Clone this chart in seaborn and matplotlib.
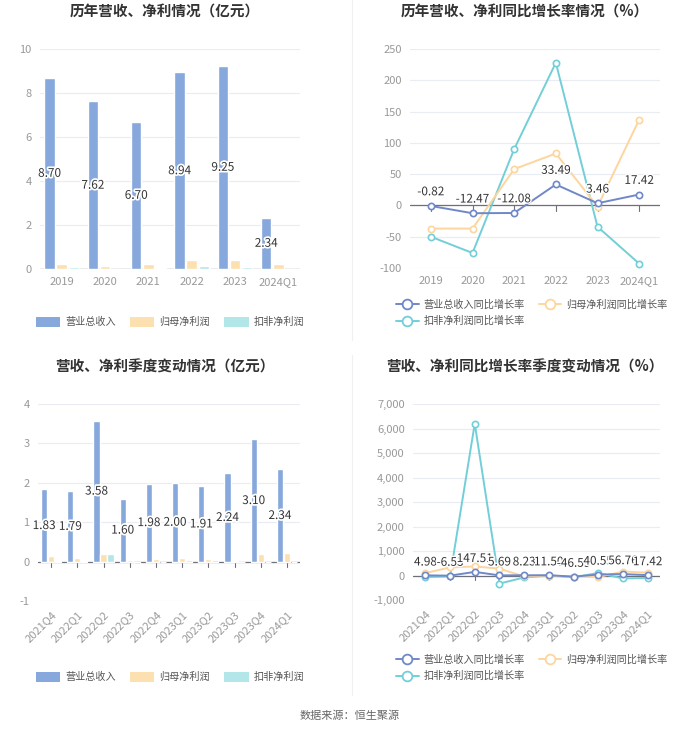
import matplotlib
matplotlib.use("Agg")
import matplotlib.pyplot as plt
import matplotlib.patheffects as pe
from matplotlib.lines import Line2D
from matplotlib.patches import Patch
from matplotlib.ticker import FuncFormatter, MultipleLocator
import seaborn as sns
import pandas as pd

sns.set_style("white")
plt.rcParams['font.family'] = ['Noto Sans CJK SC', 'DejaVu Sans']
plt.rcParams['axes.unicode_minus'] = False

# ---------------- data ----------------
years = ["2019", "2020", "2021", "2022", "2023", "2024Q1"]
rev_year = [8.70, 7.62, 6.70, 8.94, 9.25, 2.34]
np_year = [0.22, 0.15, 0.22, 0.42, 0.40, 0.22]
kf_year = [0.10, 0.02, 0.04, 0.15, 0.10, 0.01]

rev_g_year = [-0.82, -12.47, -12.08, 33.49, 3.46, 17.42]
np_g_year = [-37, -37, 58, 83, -2, 137]
kf_g_year = [-50, -76, 90, 228, -34, -93]

quarters = ["2021Q4", "2022Q1", "2022Q2", "2022Q3", "2022Q4",
            "2023Q1", "2023Q2", "2023Q3", "2023Q4", "2024Q1"]
rev_q = [1.83, 1.79, 3.58, 1.60, 1.98, 2.00, 1.91, 2.24, 3.10, 2.34]
np_q = [0.15, 0.08, 0.20, 0.03, 0.06, 0.10, 0.06, 0.01, 0.20, 0.22]
kf_q = [0.02, 0.02, 0.19, -0.06, 0.00, 0.03, 0.04, 0.00, 0.00, 0.00]

rev_g_q = [4.98, -6.53, 147.51, 5.69, 8.23, 11.50, -46.59, 40.55, 56.76, 17.42]
np_g_q = [100, 330, 370, 280, -40, 0, -50, -60, 160, 120]
kf_g_q = [-60, -40, 6200, -330, -80, 0, -70, 100, -120, -100]

bar_names = ["营业总收入", "归母净利润", "扣非净利润"]
line_names = ["营业总收入同比增长率", "归母净利润同比增长率", "扣非净利润同比增长率"]
bar_colors = ["#86a8dc", "#fde0b0", "#b3e6e8"]
line_colors = ["#7088c8", "#fdd59e", "#72cfd8"]

W, H = 700, 734
fig = plt.figure(figsize=(W / 100, H / 100), dpi=100)
fig.patch.set_facecolor("white")


def px_axes(x0, y0, x1, y1):
    return fig.add_axes([x0 / W, 1 - y1 / H, (x1 - x0) / W, (y1 - y0) / H])


TICK_C = "#999999"
GRID_C = "#e9ecf2"
AXIS_C = "#6e7079"


def style_axes(ax, ylim, step, fmt=None, rotate=False):
    ax.set_ylim(*ylim)
    ax.yaxis.set_major_locator(MultipleLocator(step))
    if fmt:
        ax.yaxis.set_major_formatter(FuncFormatter(fmt))
    for s in ax.spines.values():
        s.set_visible(False)
    ax.grid(axis="y", color=GRID_C, linewidth=0.8)
    ax.set_axisbelow(True)
    ax.axhline(0, color=AXIS_C, linewidth=0.9, zorder=1.5)
    ax.tick_params(axis="y", length=0, labelsize=8, labelcolor=TICK_C, pad=6)
    ax.tick_params(axis="x", length=0, labelsize=8, labelcolor=TICK_C, pad=6)
    ax.set_xlabel("")
    ax.set_ylabel("")
    if rotate:
        for lab in ax.get_xticklabels():
            lab.set_rotation(45)
            lab.set_ha("right")
            lab.set_rotation_mode("anchor")


def zero_ticks(ax, n):
    y0, y1 = ax.get_ylim()
    d = (y1 - y0) * 0.025
    for i in range(n):
        ax.plot([i, i], [0, -d], color=AXIS_C, linewidth=0.8, zorder=1.5, clip_on=False)


def bar_panel(ax, cats, rev, npv, kf, ylim, step, rotate=False, width=0.84, gap=0.14):
    df = pd.DataFrame({
        "cat": cats * 3,
        "val": rev + npv + kf,
        "series": [bar_names[0]] * len(cats) + [bar_names[1]] * len(cats) + [bar_names[2]] * len(cats),
    })
    sns.barplot(data=df, x="cat", y="val", hue="series", hue_order=bar_names,
                palette=dict(zip(bar_names, bar_colors)),
                ax=ax, width=width, gap=gap, legend=False, saturation=1, zorder=2)
    ax.set_xlim(-0.5, len(cats) - 0.5)
    labels = ax.bar_label(ax.containers[0], fmt="%.2f", label_type="center",
                          fontsize=8.5, color="#333333")
    for t in labels:
        t.set_path_effects([pe.withStroke(linewidth=2.5, foreground="white")])
    style_axes(ax, ylim, step, rotate=rotate)


def line_panel(ax, cats, rg, ng, kg, ylim, step, fmt=None, rotate=False, fs=8.5):
    df = pd.DataFrame({
        "cat": cats * 3,
        "val": rg + ng + kg,
        "series": [line_names[0]] * len(cats) + [line_names[1]] * len(cats) + [line_names[2]] * len(cats),
    })
    sns.lineplot(data=df, x="cat", y="val", hue="series",
                 palette=dict(zip(line_names, line_colors)),
                 hue_order=[line_names[2], line_names[1], line_names[0]],
                 ax=ax, marker="o", markersize=4.5, markerfacecolor="white",
                 markeredgewidth=1.2, linewidth=1.4, legend=False, sort=False, zorder=3)
    for ln in ax.lines:
        ln.set_markeredgecolor(ln.get_color())
        ln.set_markerfacecolor("white")
    ax.set_xlim(-0.5, len(cats) - 0.5)
    off = (ylim[1] - ylim[0]) * 0.035
    for i, v in enumerate(rg):
        ax.text(i, v + off, f"{v:.2f}", ha="center", va="bottom", fontsize=fs,
                color="#333333", zorder=5,
                path_effects=[pe.withStroke(linewidth=2, foreground="white")])
    style_axes(ax, ylim, step, fmt=fmt, rotate=rotate)


def bar_legend(ax, x, y):
    handles = [Patch(facecolor=c, edgecolor="none") for c in bar_colors]
    ax.legend(handles, bar_names, loc="center", bbox_to_anchor=(x, y),
              bbox_transform=fig.transFigure, ncol=3, frameon=False,
              fontsize=7.3, labelcolor="#555555", handlelength=2.4, handleheight=1.1,
              columnspacing=1.4, handletextpad=0.5)


def line_legend(ax, x, y):
    order = [0, 2, 1]
    handles = [Line2D([0], [0], color=line_colors[i], marker="o", markerfacecolor="white",
                      markeredgecolor=line_colors[i],
                      markersize=7, markeredgewidth=1.3, linewidth=1.4) for i in order]
    labels = [line_names[i] for i in order]
    ax.legend(handles, labels, loc="center", bbox_to_anchor=(x, y),
              bbox_transform=fig.transFigure, ncol=2, frameon=False,
              fontsize=7.3, labelcolor="#555555", handlelength=2.2,
              columnspacing=1.4, handletextpad=0.5, labelspacing=0.6)


# ---------- top-left ----------
ax1 = px_axes(40, 49, 300, 269)
bar_panel(ax1, years, rev_year, np_year, kf_year, (0, 10), 2)
bar_legend(ax1, 170 / W, 1 - 322 / H)

# ---------- top-right ----------
ax2 = px_axes(410, 49, 660, 268)
line_panel(ax2, years, rev_g_year, np_g_year, kf_g_year, (-100, 250), 50)
zero_ticks(ax2, len(years))
line_legend(ax2, 532 / W, 1 - 313 / H)

# ---------- bottom-left ----------
ax3 = px_axes(38, 404, 300, 601)
bar_panel(ax3, quarters, rev_q, np_q, kf_q, (-1, 4), 1, rotate=True, width=0.8, gap=0.12)
zero_ticks(ax3, len(quarters))
bar_legend(ax3, 170 / W, 1 - 677 / H)

# ---------- bottom-right ----------
ax4 = px_axes(413, 404, 660, 600)
line_panel(ax4, quarters, rev_g_q, np_g_q, kf_g_q, (-1000, 7000), 1000,
           fmt=lambda v, p: f"{int(v):,}", rotate=True, fs=8.5)
zero_ticks(ax4, len(quarters))
line_legend(ax4, 532 / W, 1 - 668 / H)

# ---------- titles ----------
title_kw = dict(fontsize=10.5, fontweight="bold", color="#333333", ha="center", va="center")
fig.text(165 / W, 1 - 12 / H, "历年营收、净利情况（亿元）", **title_kw)
fig.text(525 / W, 1 - 12 / H, "历年营收、净利同比增长率情况（%）", **title_kw)
fig.text(165 / W, 1 - 367 / H, "营收、净利季度变动情况（亿元）", **title_kw)
fig.text(525 / W, 1 - 367 / H, "营收、净利同比增长率季度变动情况（%）", **title_kw)

fig.add_artist(Line2D([352 / W, 352 / W], [1 - 0 / H, 1 - 340 / H], color="#f0f0f0", linewidth=0.8))
fig.add_artist(Line2D([352 / W, 352 / W], [1 - 355 / H, 1 - 695 / H], color="#f0f0f0", linewidth=0.8))

fig.text(350 / W, 1 - 716 / H, "数据来源：恒生聚源", fontsize=8, color="#666666",
         ha="center", va="center")

fig.savefig("out.png", dpi=100, facecolor="white")
